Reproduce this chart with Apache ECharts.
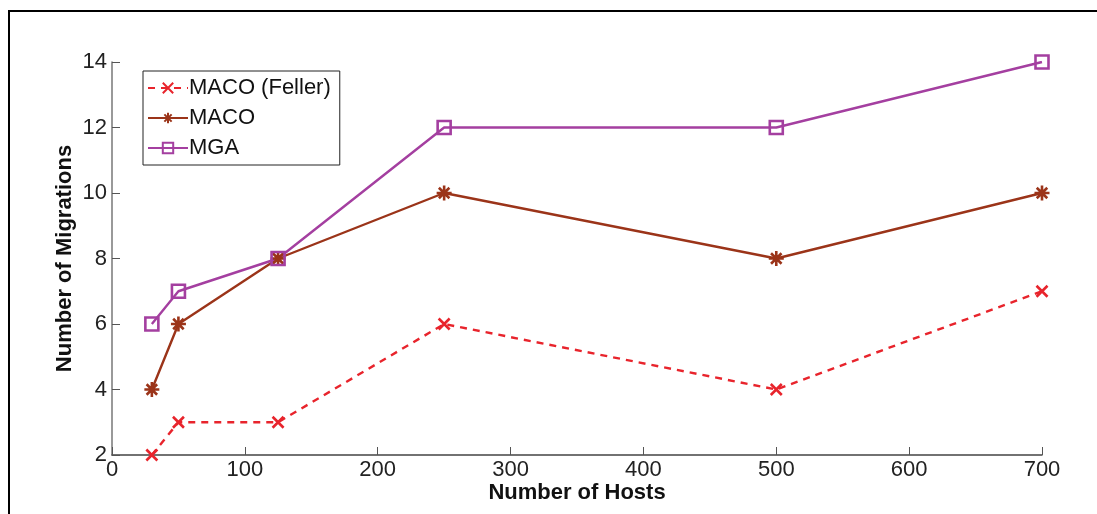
<!DOCTYPE html>
<html><head><meta charset="utf-8">
<script src="https://cdn.jsdelivr.net/npm/echarts@6/dist/echarts.min.js"></script>
<style>html,body{margin:0;padding:0;background:#fff}#c{width:1097px;height:514px}</style>
</head><body><div id="c"></div>
<script>
const hosts = [30, 50, 125, 250, 500, 700];
const macoFeller = [2, 3, 3, 6, 4, 7];
const maco = [4, 6, 8, 10, 8, 10];
const mga = [6, 7, 8, 12, 12, 14];
const xTicks = [0, 100, 200, 300, 400, 500, 600, 700];
const yTicks = [2, 4, 6, 8, 10, 12, 14];
const seriesNames = ['MACO (Feller)', 'MACO', 'MGA'];

const pair = (ys) => hosts.map((x, i) => [x, ys[i]]);
const F = 'Liberation Sans, Arial, sans-serif';
const cross = 'path://M0,0L10,10M10,0L0,10';
const star = 'path://M5,0V10M0,5H10M1.5,1.5L8.5,8.5M8.5,1.5L1.5,8.5';
const square = 'path://M0,0H10V10H0Z';

const chart = echarts.init(document.getElementById('c'));
chart.setOption({
  animation: false,
  backgroundColor: '#fff',
  grid: {left: 112, right: 55, top: 62, bottom: 59},
  graphic: [{type: 'rect', shape: {x: 9, y: 11, width: 1200, height: 600},
    style: {fill: 'none', stroke: '#000', lineWidth: 2}, silent: true, z: -1}],
  legend: {
    left: 143, top: 71, orient: 'vertical',
    backgroundColor: '#fff', borderColor: '#222', borderWidth: 1, borderRadius: 0,
    padding: [6, 9, 6, 4], itemGap: 8, itemWidth: 40, itemHeight: 13,
    textStyle: {fontFamily: F, fontSize: 22, color: '#111', padding: [0,0,0,-4], lineHeight: 22},
    data: seriesNames
  },
  xAxis: {
    type: 'value', min: xTicks[0], max: xTicks[xTicks.length - 1], interval: 100,
    name: 'Number of Hosts', nameLocation: 'middle', nameGap: 27, nameMoveOverlap: false,
    nameTextStyle: {fontFamily: F, fontSize: 22, fontWeight: 'bold', color: '#111'},
    axisLine: {lineStyle: {color: '#444', width: 1.5}},
    axisTick: {inside: true, length: 8, lineStyle: {color: '#555'}},
    axisLabel: {fontFamily: F, fontSize: 22, color: '#222', margin: 4},
    splitLine: {show: false}
  },
  yAxis: {
    type: 'value', min: yTicks[0], max: yTicks[yTicks.length - 1], interval: 2,
    name: 'Number of Migrations', nameLocation: 'middle', nameGap: 36, nameRotate: 90, nameMoveOverlap: false,
    nameTextStyle: {fontFamily: F, fontSize: 22, fontWeight: 'bold', color: '#111'},
    axisLine: {show: true, lineStyle: {color: '#777', width: 1.5}},
    axisTick: {show: true, inside: true, length: 8, lineStyle: {color: '#555'}},
    axisLabel: {fontFamily: F, fontSize: 22, color: '#222', margin: 5},
    splitLine: {show: false}
  },
  series: [
    {name: seriesNames[0], type: 'line', data: pair(macoFeller), symbol: cross, symbolSize: 11,
     lineStyle: {color: '#e8242c', width: 2.4, type: [7, 6]},
     itemStyle: {color: 'none', borderColor: '#e8242c', borderWidth: 2.6}},
    {name: seriesNames[1], type: 'line', data: pair(maco), symbol: star, symbolSize: 15,
     lineStyle: {color: '#9b3419', width: 2.4},
     itemStyle: {color: 'none', borderColor: '#9b3419', borderWidth: 2.6}},
    {name: seriesNames[2], type: 'line', data: pair(mga), symbol: square, symbolSize: 13,
     lineStyle: {color: '#a43fa0', width: 2.4},
     itemStyle: {color: 'none', borderColor: '#a43fa0', borderWidth: 2.6}}
  ]
});
</script></body></html>
